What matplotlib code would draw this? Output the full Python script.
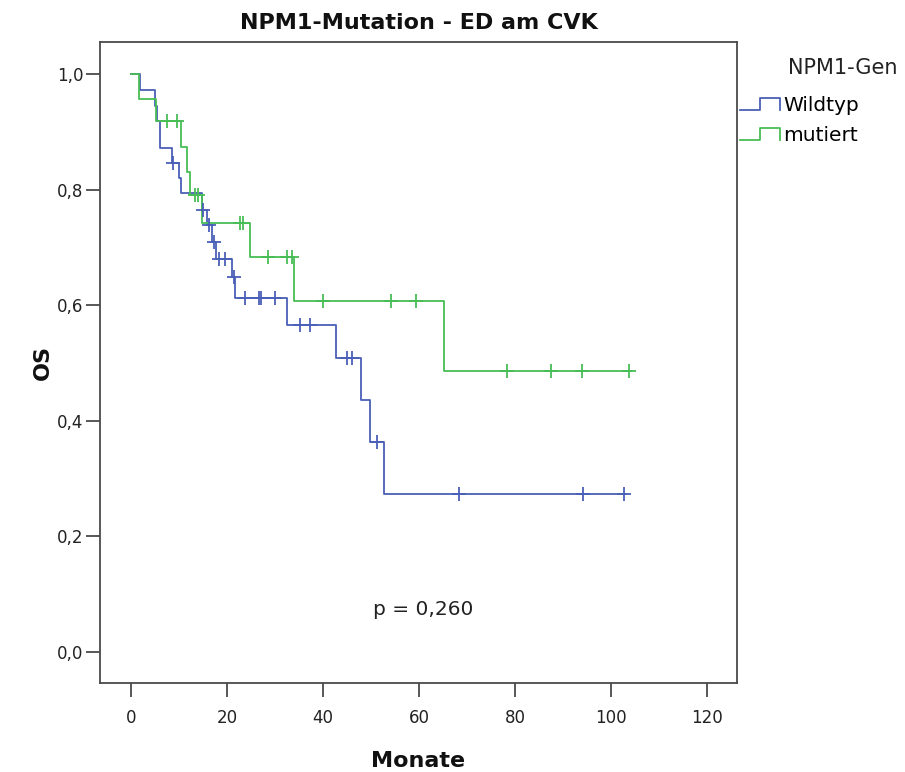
import numpy as np
import matplotlib
matplotlib.use("Agg")
import matplotlib.pyplot as plt
from matplotlib.lines import Line2D
from matplotlib.legend_handler import HandlerBase

plt.rcParams['font.family'] = ['DejaVu Sans']

# Kaplan-Meier step curves: event times (months) and survival after each step
wt_times = [0, 1.9, 5.0, 5.4, 6.0, 8.5, 9.9, 10.5, 14.7, 15.8, 16.8, 17.7,
            21.0, 21.7, 32.4, 42.7, 47.9, 49.7, 52.7]
wt_surv = [1.0, 0.973, 0.946, 0.919, 0.872, 0.846, 0.820, 0.794, 0.765, 0.739,
           0.710, 0.681, 0.649, 0.613, 0.566, 0.508, 0.436, 0.363, 0.2735]
wt_end = 103.2
wt_censored = [8.8, 15.1, 16.3, 17.2, 18.4, 19.6, 21.5, 23.75, 26.7, 27.0,
               29.9, 35.2, 37.3, 45.1, 46.1, 51.2, 68.4, 94.2, 102.8]

mut_times = [0, 1.7, 5.3, 10.5, 11.6, 12.2, 14.7, 24.8, 34.0, 65.3]
mut_surv = [1.0, 0.958, 0.919, 0.875, 0.831, 0.791, 0.742, 0.683, 0.608, 0.487]
mut_end = 104.1
mut_censored = [7.4, 9.5, 13.3, 14.0, 22.7, 23.4, 28.5, 32.6, 33.5, 39.9,
                54.1, 59.3, 78.4, 87.4, 94.0, 103.7]

groups = ["Wildtyp", "mutiert"]
colors = ["#4a60b8", "#49bd55"]

title = "NPM1-Mutation - ED am CVK"
legend_title = "NPM1-Gen"
p_text = "p = 0,260"
x_ticks = [0, 20, 40, 60, 80, 100, 120]
y_ticks = [0.0, 0.2, 0.4, 0.6, 0.8, 1.0]


def surv_at(t, times, surv):
    idx = np.searchsorted(times, t, side="right") - 1
    return np.asarray(surv)[idx]


fig = plt.figure(figsize=(9.05, 7.72), dpi=100)
ax = fig.add_axes([0.1105, 0.1153, 0.7039, 0.8303])

series = [(wt_times, wt_surv, wt_end, wt_censored),
          (mut_times, mut_surv, mut_end, mut_censored)]
for (times, surv, end, cens), col in zip(series, colors):
    xs = list(times) + [end]
    ys = list(surv) + [surv[-1]]
    ax.step(xs, ys, where="post", color=col, lw=1.3, zorder=3)
    cy = surv_at(np.array(cens), times, surv)
    ax.plot(cens, cy, ls="none", marker="+", ms=10, mew=1.3, color=col, zorder=4)

ax.set_xlim(-6.46, 126.25)
ax.set_ylim(-0.054, 1.056)
ax.set_xticks(x_ticks)
ax.set_xticklabels([str(v) for v in x_ticks])
ax.set_yticks(y_ticks)
ax.set_yticklabels([f"{v:.1f}".replace(".", ",") for v in y_ticks])

frame_col = "#4a4a4a"
for s in ax.spines.values():
    s.set_color(frame_col)
    s.set_linewidth(1.3)
ax.tick_params(direction="out", length=10, width=1.3, color=frame_col,
               labelsize=12, labelcolor="#222222")
ax.tick_params(axis="x", pad=9)
ax.tick_params(axis="y", pad=2)

ax.set_title(title, fontsize=16, fontweight="bold", pad=9, color="#111111")
ax.set_xlabel("Monate", fontsize=16, fontweight="bold", labelpad=17, color="#111111")
ax.set_ylabel("OS", fontsize=16, fontweight="bold", labelpad=3, color="#111111")

ax.text(60.8, 0.073, p_text, fontsize=14.5, ha="center", va="center", color="#222222")


class StepHandler(HandlerBase):
    def create_artists(self, legend, orig_handle, xdescent, ydescent,
                       width, height, fontsize, trans):
        x = np.array([0, 0.5, 0.5, 1.0, 1.0]) * width - xdescent
        y = np.array([0.05, 0.05, 0.95, 0.95, 0.05]) * height - ydescent
        line = Line2D(x, y, color=orig_handle.get_color(), lw=1.3)
        line.set_transform(trans)
        return [line]


handles = [Line2D([], [], color=c) for c in colors]
leg = fig.legend(handles, groups,
                 handler_map={Line2D: StepHandler()},
                 loc="upper left", bbox_to_anchor=(740 / 905, 1 - 96 / 772),
                 frameon=False, fontsize=14.5,
                 handlelength=2.0, handleheight=0.6, handletextpad=0.15,
                 labelspacing=0.55, borderaxespad=0, borderpad=0)
fig.text(788 / 905, 1 - 68 / 772, legend_title, fontsize=15,
         ha="left", va="center", color="#222222")

fig.savefig("out.png", dpi=100)
